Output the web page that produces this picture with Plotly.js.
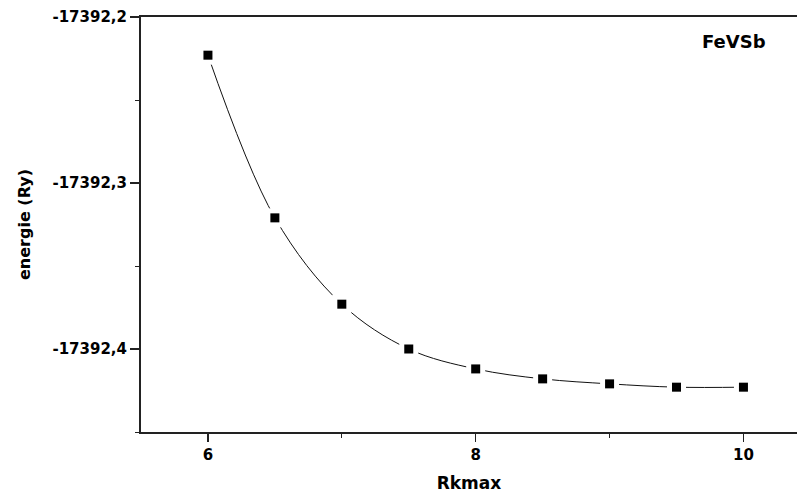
<!DOCTYPE html>
<html>
<head>
<meta charset="utf-8">
<script src="https://cdn.plot.ly/plotly-3.0.1.min.js"></script>
<style>
  html, body { margin: 0; padding: 0; background: #ffffff; }
  #chart { width: 797px; height: 497px; }
</style>
</head>
<body>
<div id="chart"></div>
<script>
// Total energy convergence of FeVSb versus the RKmax cut-off
const rkmax = [6, 6.5, 7, 7.5, 8, 8.5, 9, 9.5, 10];
const energy = [-17392.223, -17392.321, -17392.373, -17392.400, -17392.412,
                -17392.418, -17392.421, -17392.423, -17392.423];

const yTickVals = [-17392.2, -17392.3, -17392.4];
const yTickText = ['-17392,2', '-17392,3', '-17392,4'];
const xTickVals = [6, 8, 10];
const xTickText = ['6', '8', '10'];

const font = 'DejaVu Sans, Arial, sans-serif';

const traces = [
  {
    // smooth curve; white squares open small gaps around each point
    x: rkmax, y: energy,
    type: 'scatter', mode: 'lines+markers',
    line: { color: '#111111', width: 1, shape: 'spline', smoothing: 1 },
    marker: { symbol: 'square', size: 19, color: '#ffffff', line: { width: 0 } },
    hoverinfo: 'skip', showlegend: false
  },
  {
    x: rkmax, y: energy,
    type: 'scatter', mode: 'markers',
    marker: { symbol: 'square', size: 9, color: '#000000', line: { width: 0 } },
    showlegend: false
  }
];

const layout = {
  width: 797, height: 497,
  margin: { l: 141, r: 0, t: 17, b: 65, pad: 0 },
  paper_bgcolor: '#ffffff', plot_bgcolor: '#ffffff',
  font: { family: font, color: '#000000' },
  showlegend: false,
  xaxis: {
    range: [5.5, 10.4],
    tickvals: xTickVals, ticktext: xTickText,
    ticks: 'outside', ticklen: 8, tickwidth: 1.5, tickcolor: '#222222',
    minor: { dtick: 1, tick0: 0, ticks: 'outside', ticklen: 4, tickwidth: 1, tickcolor: '#222222', showgrid: false },
    showline: true, linecolor: '#222222', linewidth: 2, mirror: true,
    showgrid: false, zeroline: false,
    tickfont: { family: font, size: 15, color: '#000000', weight: 'bold' },
    title: { text: '<b>Rkmax</b>', font: { family: font, size: 17, color: '#000000' }, standoff: 14 }
  },
  yaxis: {
    range: [-17392.45, -17392.2],
    tickvals: yTickVals, ticktext: yTickText,
    ticks: 'outside', ticklen: 9, tickwidth: 1.5, tickcolor: '#222222',
    minor: { dtick: 0.05, tick0: -17392.2, ticks: 'outside', ticklen: 4, tickwidth: 1, tickcolor: '#222222', showgrid: false },
    showline: true, linecolor: '#222222', linewidth: 2, mirror: false,
    showgrid: false, zeroline: false,
    tickfont: { family: font, size: 15, color: '#000000', weight: 'bold' },
    title: { text: '<b>energie (Ry)</b>', font: { family: font, size: 16, color: '#000000' }, standoff: 18 }
  },
  annotations: [
    {
      text: '<b>FeVSb</b>', xref: 'paper', yref: 'paper',
      x: 0.904, y: 0.942, xanchor: 'center', yanchor: 'middle',
      showarrow: false, font: { family: font, size: 18, color: '#000000' }
    }
  ]
};

Plotly.newPlot('chart', traces, layout, { displayModeBar: false, staticPlot: true });
</script>
</body>
</html>
